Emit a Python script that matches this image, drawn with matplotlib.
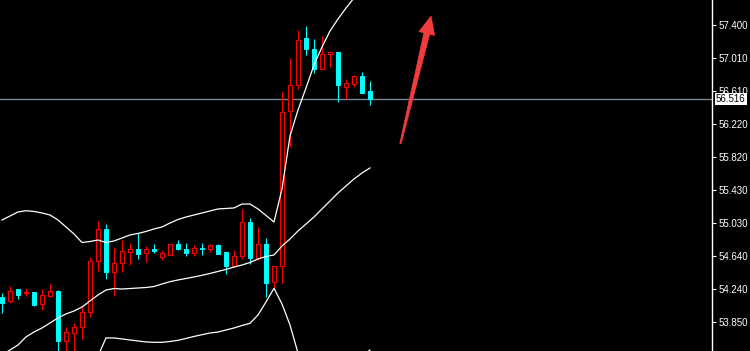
import matplotlib
matplotlib.use("Agg")
import matplotlib.pyplot as plt
import matplotlib.transforms as mtransforms
from matplotlib.patches import Polygon
import numpy as np

# candles (oldest -> newest)
opens = [54.152, 54.101, 54.244, 54.193, 54.205, 54.062, 54.164, 54.220, 53.619, 53.715,
         53.787, 53.966, 54.576, 54.958, 54.444, 54.552, 54.690, 54.719, 54.671, 54.723,
         54.631, 54.654, 54.782, 54.723, 54.678, 54.734, 54.726, 54.767, 54.687, 54.519,
         54.635, 55.042, 54.611, 54.782, 54.325, 54.516, 56.368, 56.679, 57.245, 57.113,
         56.878, 57.050, 57.077, 56.655, 56.691, 56.787, 56.611]
highs = [54.197, 54.280, 54.250, 54.256, 54.205, 54.244, 54.304, 54.232, 53.790, 53.834,
         54.045, 54.627, 55.054, 55.021, 54.743, 54.830, 54.791, 54.910, 54.758, 54.779,
         54.711, 54.782, 54.830, 54.794, 54.770, 54.794, 54.782, 54.782, 54.687, 54.711,
         55.201, 55.093, 54.982, 54.850, 54.523, 56.599, 57.002, 57.340, 57.388, 57.229,
         57.269, 57.081, 57.077, 56.751, 56.802, 56.838, 56.731]
lows = [53.961, 54.077, 54.128, 54.164, 54.045, 53.993, 54.152, 53.396, 53.396, 53.396,
        53.643, 53.913, 54.460, 54.368, 54.164, 54.451, 54.531, 54.603, 54.571, 54.675,
        54.595, 54.654, 54.711, 54.642, 54.642, 54.654, 54.687, 54.666, 54.420, 54.504,
        54.603, 54.543, 54.591, 54.145, 54.260, 54.313, 55.945, 56.631, 57.045, 56.830,
        56.878, 56.898, 56.483, 56.519, 56.662, 56.591, 56.447]
closes = [54.081, 54.220, 54.176, 54.212, 54.057, 54.169, 54.217, 53.626, 53.727, 53.794,
          53.966, 54.576, 54.958, 54.444, 54.552, 54.695, 54.719, 54.666, 54.719, 54.699,
          54.675, 54.782, 54.726, 54.678, 54.734, 54.723, 54.770, 54.666, 54.523, 54.635,
          55.042, 54.615, 54.782, 54.320, 54.516, 56.357, 56.679, 57.217, 57.117, 56.878,
          57.050, 57.077, 56.686, 56.703, 56.787, 56.591, 56.516]

# bollinger bands
bb_upper = [55.069, 55.117, 55.165, 55.180, 55.171, 55.153, 55.129, 55.069, 54.986, 54.902,
            54.800, 54.812, 54.830, 54.800, 54.818, 54.854, 54.890, 54.908, 54.932, 54.962,
            54.986, 55.033, 55.075, 55.105, 55.129, 55.153, 55.177, 55.201, 55.207, 55.213,
            55.260, 55.260, 55.201, 55.123, 55.045, 55.440, 56.073, 56.384, 56.647, 56.922,
            57.137, 57.328, 57.472, 57.603, 57.723, 57.842, 57.938]
bb_middle = [53.456, 53.515, 53.575, 53.671, 53.730, 53.778, 53.838, 53.898, 53.946, 53.981,
             54.029, 54.101, 54.173, 54.232, 54.250, 54.244, 54.250, 54.256, 54.262, 54.274,
             54.304, 54.332, 54.352, 54.370, 54.388, 54.408, 54.430, 54.454, 54.478, 54.507,
             54.531, 54.561, 54.603, 54.633, 54.651, 54.758, 54.842, 54.938, 55.021, 55.105,
             55.201, 55.296, 55.392, 55.476, 55.559, 55.631, 55.691]
bb_lower = [51.842, 51.914, 51.985, 52.165, 52.296, 52.404, 52.547, 52.726, 52.906, 53.061,
            53.252, 53.336, 53.444, 53.659, 53.659, 53.647, 53.635, 53.623, 53.611, 53.607,
            53.607, 53.617, 53.631, 53.653, 53.677, 53.698, 53.718, 53.730, 53.754, 53.778,
            53.808, 53.834, 53.934, 54.089, 54.253, 54.065, 53.814, 53.479, 53.372, 53.288,
            53.264, 53.264, 53.312, 53.348, 53.396, 53.444, 53.515]

tick_values = [57.400, 57.010, 56.610, 56.220, 55.820, 55.430, 55.030, 54.640, 54.240, 53.850]
tick_labels = ["57.400", "57.010", "56.610", "56.220", "55.820",
               "55.430", "55.030", "54.640", "54.240", "53.850"]
last_price = 56.516

UP_COLOR = "#ff0000"
DOWN_COLOR = "#00ffff"
BID_COLOR = "#778899"
ARROW_COLOR = "#f03c3c"
FONT = ["Liberation Sans", "DejaVu Sans"]

W, H = 750, 351
AX_RIGHT = 711.5

fig = plt.figure(figsize=(W / 100, H / 100), dpi=100, facecolor="black")
ax = fig.add_axes([0, 0, AX_RIGHT / W, 1])
ax.set_facecolor("black")

x = np.arange(len(opens))
o = np.array(opens)
c = np.array(closes)
up = c >= o
dn = ~up

wick_colors = [UP_COLOR if u else DOWN_COLOR for u in up]
ax.vlines(x, lows, highs, colors=wick_colors, linewidth=0.8, zorder=2)

# hollow red bodies, filled cyan bodies
ax.bar(x[up], (c - o)[up], bottom=o[up], width=0.5, facecolor="black",
       edgecolor=UP_COLOR, linewidth=0.8, zorder=3)
ax.bar(x[dn], (o - c)[dn], bottom=c[dn], width=0.55, facecolor=DOWN_COLOR,
       edgecolor=DOWN_COLOR, linewidth=0.7, zorder=3)

for band in (bb_upper, bb_middle, bb_lower):
    ax.plot(x, band, color="white", linewidth=0.9, zorder=4)

ax.axhline(last_price, color=BID_COLOR, linewidth=1, zorder=1)

# 8 px per bar, first bar 2 px from the left edge
ax.set_xlim(-0.25, -0.25 + AX_RIGHT / 8)
ax.set_ylim(53.503, 57.699)

ax.set_xticks([])
ax.yaxis.tick_right()
ax.set_yticks(tick_values)
ax.set_yticklabels(tick_labels, family=FONT)
ax.tick_params(axis="y", colors="white", length=3, width=0.8, pad=2, labelsize=7)
for side in ("top", "left", "bottom"):
    ax.spines[side].set_visible(False)
ax.spines["right"].set_color("white")
ax.spines["right"].set_linewidth(1)

# current price tag on the axis
tag_tr = mtransforms.blended_transform_factory(fig.transFigure, ax.transData)
ax.text(716 / W, last_price, "56.516", transform=tag_tr, ha="left", va="center",
        color="black", fontsize=7, family=FONT, zorder=10, clip_on=False,
        bbox=dict(boxstyle="square,pad=0.12", facecolor="white", edgecolor="none"))

# hand-drawn red arrow (pixel coords of the picture)
arrow_px = [(399.8, 143.3), (423.9, 32.8), (419.0, 31.6), (431.0, 16.0),
            (434.6, 35.4), (429.7, 34.2), (401.2, 143.7)]
px_tr = mtransforms.Affine2D().scale(1 / W, -1 / H).translate(0, 1) + fig.transFigure
ax.add_patch(Polygon(arrow_px, closed=True, transform=px_tr, facecolor=ARROW_COLOR,
                     edgecolor=ARROW_COLOR, linewidth=0.5, zorder=6, clip_on=False))

fig.savefig("out.png", dpi=100, facecolor="black")
